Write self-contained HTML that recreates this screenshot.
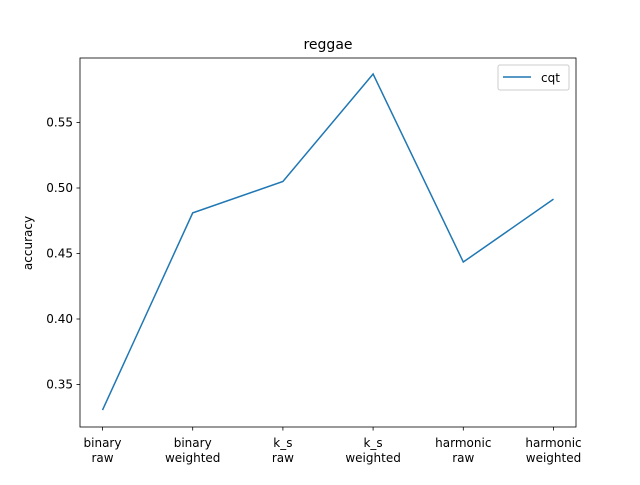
<!DOCTYPE html>
<html><head><meta charset="utf-8"><style>
body{margin:0;background:#fff;font-family:"Liberation Sans","DejaVu Sans",sans-serif;}
svg text{font-family:"DejaVu Sans","Liberation Sans",sans-serif;}
</style></head><body>
<svg id="chart" width="640" height="480" xmlns="http://www.w3.org/2000/svg">
<rect width="640" height="480" fill="#fff"/>
<text x="328" y="49" text-anchor="middle" font-size="14">reggae</text>
<text transform="translate(32,243) rotate(-90)" text-anchor="middle" font-size="12">accuracy</text>
<g id="ticks"></g>
<polyline id="line" fill="none" stroke="#1f77b4" stroke-width="1.5"/>
<rect x="80" y="58" width="496" height="369" fill="none" stroke="#000" stroke-width="0.8"/>
<g>
<rect x="498" y="65" width="71" height="25" rx="2" fill="#fff" stroke="#ccc"/>
<line x1="503" y1="77" x2="531" y2="77" stroke="#1f77b4" stroke-width="1.5"/>
<text x="541" y="82" font-size="12">cqt</text>
</g>
</svg>
<script>
const categories=[["binary","raw"],["binary","weighted"],["k_s","raw"],["k_s","weighted"],["harmonic","raw"],["harmonic","weighted"]];
const cqtValues=[0.3305,0.481,0.505,0.587,0.4435,0.4915];
const yTicks=[0.35,0.40,0.45,0.50,0.55];
const yTickLabels=["0.35","0.40","0.45","0.50","0.55"];
function xs(i){return 102.5+i*90.2;}
function ys(v){return 188-(v-0.5)*1310;}
const ns="http://www.w3.org/2000/svg";
const g=document.getElementById('ticks');
function mk(t,a){const e=document.createElementNS(ns,t);for(const k in a)e.setAttribute(k,a[k]);g.appendChild(e);return e;}
yTicks.forEach((v,i)=>{
 const y=ys(v);
 const l=mk('line',{x1:76.5,x2:80,y1:y,y2:y,stroke:'#000','stroke-width':0.8});
 
 
 const t=mk('text',{x:73,y:y+4,'text-anchor':'end','font-size':12});
 t.textContent=yTickLabels[i];
 
 
});
categories.forEach((c,i)=>{
 const x=xs(i);
 const l=mk('line',{x1:x,x2:x,y1:427,y2:430.5,stroke:'#000','stroke-width':0.8});
 
 
 const t=mk('text',{x:x,y:447,'text-anchor':'middle','font-size':12});
 
 
 c.forEach((s,j)=>{const ts=document.createElementNS(ns,'tspan');ts.setAttribute('x',x);ts.setAttribute('dy',j?15:0);ts.textContent=s;t.appendChild(ts);});
});
document.getElementById('line').setAttribute('points',cqtValues.map((v,i)=>xs(i)+','+ys(v)).join(' '));
</script>
</body></html>
